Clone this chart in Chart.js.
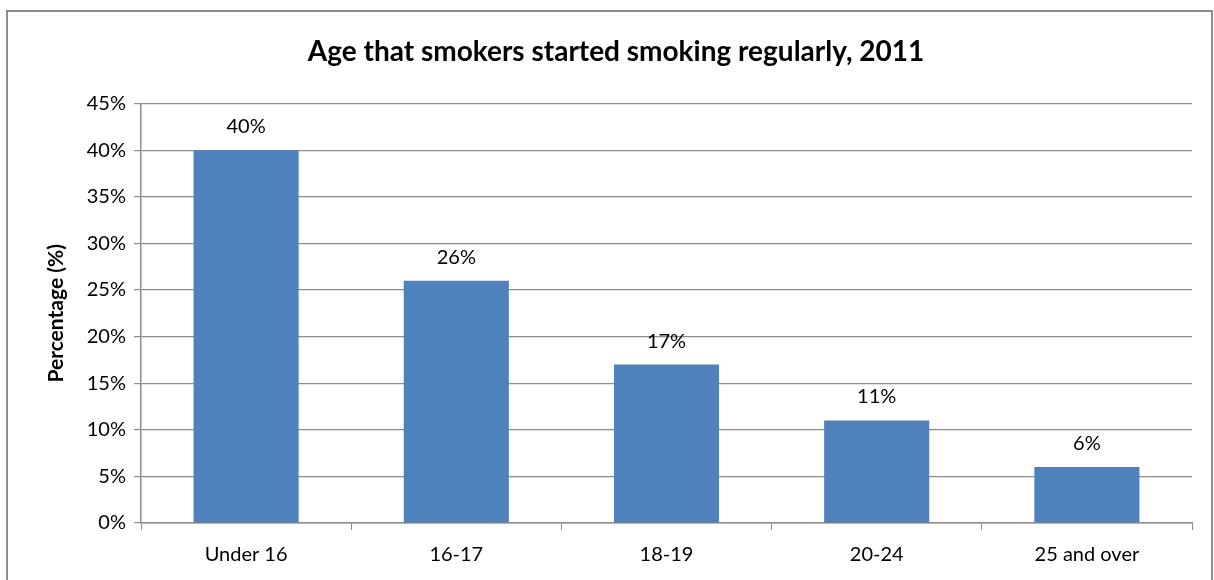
<!DOCTYPE html>
<html>
<head>
<meta charset="utf-8">
<script src="https://cdn.jsdelivr.net/npm/chart.js@4"></script>
<style>
  html, body { margin: 0; padding: 0; background: #fff; }
  #wrap { position: relative; width: 1214px; height: 580px; overflow: hidden; }
  #frame { position: absolute; left: 6px; top: 10px; width: 1203px; height: 620px; border: 2px solid #8c8c8c; }
  canvas { position: absolute; left: 0; top: 0; }
</style>
</head>
<body>
<div id="wrap">
  <div id="frame"></div>
  <canvas id="bar-chart" width="1214" height="580"></canvas>
</div>
<script>
  // chart data
  var ageGroups = ["Under 16", "16-17", "18-19", "20-24", "25 and over"];
  var percentStarted = [40, 26, 17, 11, 6];
  var yTicks = [0, 5, 10, 15, 20, 25, 30, 35, 40, 45];

  var font = "Lato, 'Open Sans', sans-serif";

  // value labels above each bar
  var barLabels = {
    id: "barLabels",
    afterDatasetsDraw: function (chart) {
      var ctx = chart.ctx;
      var meta = chart.getDatasetMeta(0);
      ctx.save();
      ctx.font = "20px " + font;
      ctx.fillStyle = "#000";
      ctx.textAlign = "center";
      ctx.textBaseline = "alphabetic";
      meta.data.forEach(function (bar, i) {
        ctx.fillText(percentStarted[i] + "%", bar.x, bar.y - 17);
      });
      ctx.restore();
    }
  };

  var ctx = document.getElementById("bar-chart").getContext("2d");
  var myChart = new Chart(ctx, {
    type: "bar",
    data: {
      labels: ageGroups,
      datasets: [{
        data: percentStarted,
        backgroundColor: "#4F81BD",
        categoryPercentage: 0.5,
        barPercentage: 1
      }]
    },
    options: {
      responsive: false,
      animation: false,
      layout: { padding: { left: 40, right: 22, top: 35, bottom: 0 } },
      plugins: {
        legend: { display: false },
        tooltip: { enabled: false },
        title: {
          display: true,
          text: "Age that smokers started smoking regularly, 2011",
          color: "#000",
          font: { family: font, size: 28, weight: "bold" },
          padding: { top: 0, bottom: 35 }
        }
      },
      scales: {
        x: {
          afterFit: function (axis) { axis.height = 57; },
          grid: { display: true, drawOnChartArea: false, offset: true, color: "#8c8c8c", tickLength: 7 },
          border: { color: "#8c8c8c", width: 1.5 },
          ticks: { color: "#000", font: { family: font, size: 20 }, padding: 13 }
        },
        y: {
          min: 0,
          max: 45,
          afterBuildTicks: function (axis) {
            axis.ticks = yTicks.map(function (v) { return { value: v }; });
          },
          afterFit: function (axis) { axis.width = 101; },
          grid: { color: "#8c8c8c", tickLength: 7, lineWidth: 1.2 },
          border: { color: "#8c8c8c", width: 1.5 },
          ticks: {
            color: "#000",
            font: { family: font, size: 20 },
            padding: 8,
            callback: function (v) { return v + "%"; }
          },
          title: {
            display: true,
            text: "Percentage (%)",
            color: "#000",
            font: { family: font, size: 21, weight: "bold" },
            padding: { top: 4, bottom: 4 }
          }
        }
      }
    },
    plugins: [barLabels]
  });
</script>
</body>
</html>
